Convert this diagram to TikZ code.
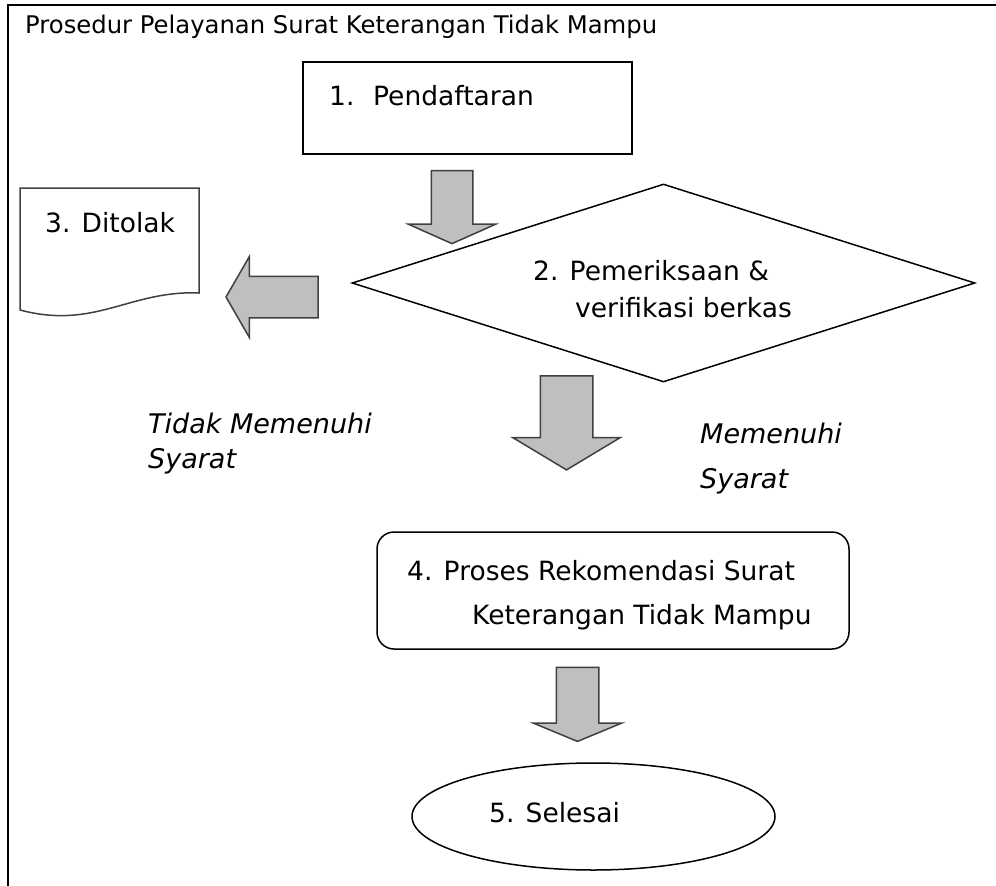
\documentclass[tikz,border=0pt]{standalone}
\usepackage{fontspec}
\setmainfont{DejaVu Sans}
\usetikzlibrary{shapes.arrows,shapes.geometric}
\begin{document}
\begin{tikzpicture}[x=1pt,y=-1pt,
  txt/.style={anchor=base west, inner sep=0, font=\fontsize{26.5}{32}\selectfont},
  itxt/.style={anchor=base west, inner sep=0, font=\fontsize{27}{32}\selectfont\itshape},
  shapeline/.style={draw=black, line width=1.5},
  barrow/.style={single arrow, draw=black!75, fill=black!25, line width=1.5, inner xsep=0, anchor=center}]
\useasboundingbox (0,0) rectangle (996,886);
% frame
\draw[line width=2] (8,886) -- (8,5) -- (996,5);
\node[anchor=base west, inner sep=0, font=\fontsize{24.3}{29}\selectfont] (title) at (25,33) {Prosedur Pelayanan Surat Keterangan Tidak Mampu};
% 1
\node[shapeline, rectangle, minimum width=329, minimum height=92, inner sep=0] (b1) at (467.5,108) {};
\node[txt] (t1) at (329,105) {\makebox[44pt][l]{1.}Pendaftaran};
% arrow 1
\node[barrow, rotate=-90, inner ysep=20, minimum height=73, single arrow head extend=23, single arrow tip angle=132] (a1) at (452,202.5) {};
% 2 diamond
\node[shapeline, diamond, minimum width=623, minimum height=198, inner sep=0] (d2) at (663.5,283) {};
\node[txt] (t2a) at (533,280) {2. Pemeriksaan \&};
\node[txt] (t2b) at (575,317) {verifikasi berkas};
% 3 document
\draw[shapeline, draw=black!75] (20,188) -- (199,188) -- (199,293) .. controls (130,290) and (95,330) .. (20,310) -- cycle;
\node[txt] (t3) at (45,232) {3. Ditolak};
% arrow left
\node[barrow, rotate=180, inner ysep=20, minimum height=92, single arrow head extend=19.5, single arrow tip angle=120] (aL) at (278,297) {};
% labels
\node[itxt] (l1) at (148,433) {Tidak Memenuhi};
\node[itxt] (l2) at (148,468) {Syarat};
\node[itxt] (l3) at (700,443) {Memenuhi};
\node[itxt] (l4) at (700,488) {Syarat};
% arrow 2
\node[barrow, rotate=-90, inner ysep=25.5, minimum height=94, single arrow head extend=27.5, single arrow tip angle=118] (a2) at (566.5,415) {};
% 4
\node[shapeline, rectangle, rounded corners=17, minimum width=472, minimum height=117, inner sep=0] (b4) at (613,590.5) {};
\node[txt] (t4a) at (407,580) {4. Proses Rekomendasi Surat};
\node[txt] (t4b) at (472,624) {Keterangan Tidak Mampu};
% arrow 3
\node[barrow, rotate=-90, inner ysep=20.5, minimum height=74, single arrow head extend=23, single arrow tip angle=135] (a3) at (577.5,700) {};
% 5
\node[shapeline, ellipse, minimum width=363, minimum height=107, inner sep=0] (e5) at (593.5,816.5) {};
\node[txt] (t5) at (489,822) {5. Selesai};
\end{tikzpicture}
\end{document}
